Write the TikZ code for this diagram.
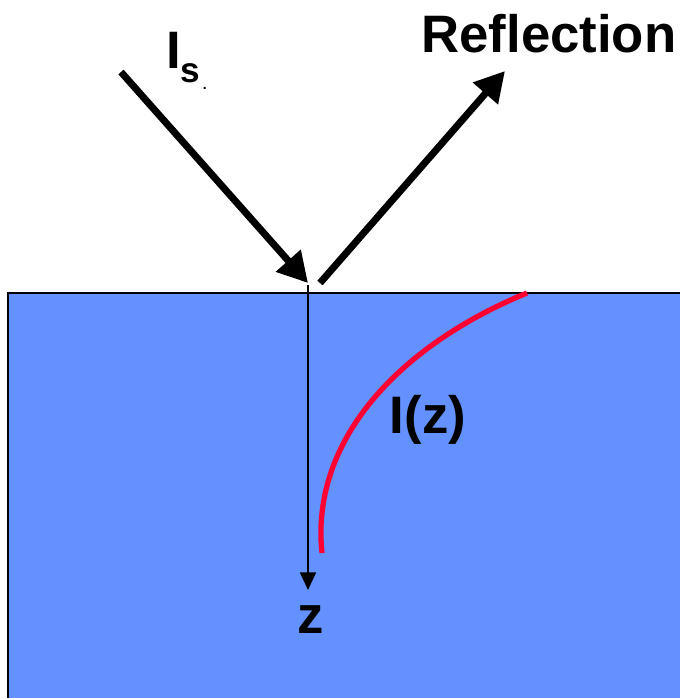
\documentclass[tikz,border=0pt]{standalone}
\usepackage{fontspec}
\setmainfont{Liberation Sans}
\usetikzlibrary{arrows.meta}
\definecolor{water}{RGB}{99,145,255}
\definecolor{decay}{RGB}{255,0,51}
\tikzset{
  beam/.style={line width=4pt, -{Triangle[length=17pt, width=18pt]}},
  lbl/.style={font=\fontsize{30}{30}\selectfont\bfseries, inner sep=0pt}
}
\begin{document}
\begin{tikzpicture}[x=0.02cm, y=-0.02cm]
    \useasboundingbox (0,0) rectangle (680,698);
    % Medium
    \fill[water] (8,293) rectangle (680,698);
    \draw[line width=1.6pt] (680,293) -- (8,293) -- (8,698);
    % Beams
    \coordinate (src) at (121,72);
    \coordinate (hit) at (308,283);
    \coordinate (out) at (320,283);
    \coordinate (far) at (505,71);
    \draw[beam] (src) -- (hit);
    \draw[beam] (out) -- (far);
    % Depth axis
    \coordinate (top) at (308,285);
    \coordinate (deep) at (308,590);
    \draw[line width=1.2pt, -{Triangle[length=10pt, width=9pt]}] (top) -- (deep);
    % Intensity profile
    \draw[decay, line width=3pt] (527,293) .. controls (400,345) and (310,440) .. (322,553);
    % Labels
    \node[lbl, anchor=base west] (is) at (166,68) {I\raisebox{-8.5pt}{\fontsize{20}{20}\selectfont s}\raisebox{-12pt}{\fontsize{8}{8}\selectfont\,.}};
    \node[lbl, anchor=base] (refl) at (549,52) {Reflection};
    \node[lbl, anchor=base] (iz) at (428,433) {I(z)};
    \node[lbl, anchor=base] (z) at (311,633) {z};
\end{tikzpicture}
\end{document}
